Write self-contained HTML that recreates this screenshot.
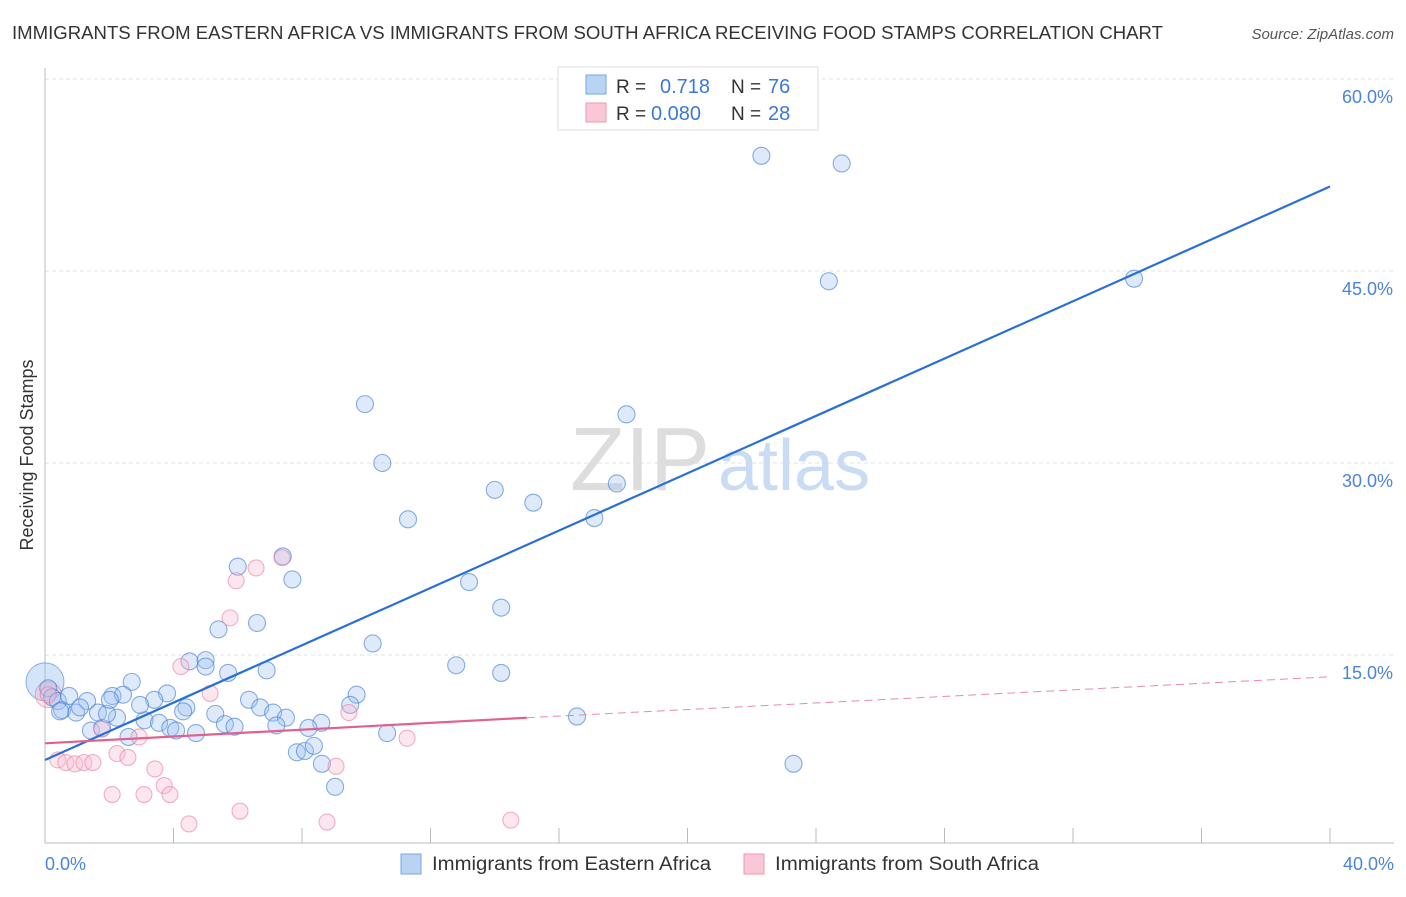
<!DOCTYPE html>
<html><head><meta charset="utf-8"><style>
body{margin:0;background:#fff;font-family:"Liberation Sans",sans-serif;}
svg text{font-family:"Liberation Sans",sans-serif;}
</style></head><body>
<svg id="chart" width="1406" height="892">
<text x="12" y="39" font-size="18" fill="#333" textLength="1151" lengthAdjust="spacingAndGlyphs">IMMIGRANTS FROM EASTERN AFRICA VS IMMIGRANTS FROM SOUTH AFRICA RECEIVING FOOD STAMPS CORRELATION CHART</text>
<text x="1394" y="39" font-size="15" fill="#555" font-style="italic" text-anchor="end">Source: ZipAtlas.com</text>
<g id="grid"></g>
<line x1="45" y1="68" x2="45" y2="843" stroke="#bbb"/>
<line x1="45" y1="843" x2="1394" y2="843" stroke="#bbb"/>
<text x="710" y="490" font-size="90" fill="#ddd" text-anchor="end" font-family="Liberation Serif">ZIP</text>
<text x="718" y="490" font-size="72" fill="#c9dcf3">atlas</text>
<text x="33" y="455" font-size="18" fill="#333" transform="rotate(-90 33 455)" text-anchor="middle">Receiving Food Stamps</text>
<text x="45" y="870" font-size="18" fill="#4a84da">0.0%</text>
<text x="1394" y="870" font-size="18" fill="#4a84da" text-anchor="end">40.0%</text>
<g id="marks"></g>
<g>
<rect x="558" y="67" width="260" height="63" fill="#fff" stroke="#ddd"/>
<rect x="586" y="75" width="20" height="19" fill="#b9d3f5" stroke="#7aa6e3"/>
<rect x="586" y="103" width="20" height="19" fill="#f9c7d5" stroke="#ec9ab2"/>
<text x="616" y="93" font-size="19" fill="#333">R = </text><text x="660" y="93" font-size="20" fill="#3b78d8">0.718</text>
<text x="731" y="93" font-size="19" fill="#333">N = </text><text x="768" y="93" font-size="20" fill="#3b78d8">76</text>
<text x="616" y="120" font-size="19" fill="#333">R = </text><text x="651" y="120" font-size="20" fill="#3b78d8">0.080</text>
<text x="731" y="120" font-size="19" fill="#333">N = </text><text x="768" y="120" font-size="20" fill="#3b78d8">28</text>
</g>
<g>
<rect x="401" y="854" width="20" height="20" fill="#b9d3f5" stroke="#7aa6e3"/>
<text x="432" y="870" font-size="19" fill="#333" textLength="279" lengthAdjust="spacingAndGlyphs">Immigrants from Eastern Africa</text>
<rect x="744" y="854" width="20" height="20" fill="#f9c7d5" stroke="#ec9ab2"/>
<text x="775" y="870" font-size="19" fill="#333" textLength="264" lengthAdjust="spacingAndGlyphs">Immigrants from South Africa</text>
</g>
</svg>
<script>
const yTicks=[15,30,45,60];
const xTicks=[0,4,8,12,16,20,24,28,32,36,40];
const blueX=[22.3,24.8,24.4,33.9,9.96,18.1,10.5,14.0,15.2,17.8,11.3,17.1,6.0,7.4,7.7,13.2,14.2,6.6,5.4,10.2,12.8,14.2,4.5,5.0,5.0,5.7,6.9,2.7,3.8,3.4,4.4,6.35,9.7,9.5,6.7,7.1,7.5,8.6,8.2,4.3,5.3,5.6,5.9,7.2,3.1,3.55,3.9,2.24,2.6,1.43,1.78,0.1,0.22,0.4,0.53,0.75,0.97,1.31,1.65,2.1,1.93,2.43,2.96,16.56,10.65,7.84,8.09,8.37,8.62,9.03,23.3,4.7,4.08,0.47,1.09,2.02];
const blueY=[54.0,53.4,44.2,44.4,34.6,33.8,30.0,27.9,26.9,28.4,25.6,25.7,21.9,22.7,20.9,20.7,18.7,17.5,17.0,15.9,14.2,13.6,14.5,14.6,14.1,13.6,13.8,12.9,12.0,11.5,10.9,11.5,11.9,11.1,10.9,10.5,10.1,9.7,9.3,10.6,10.4,9.6,9.4,9.5,9.9,9.7,9.3,10.1,8.6,9.1,9.3,12.4,11.7,11.4,10.7,11.8,10.5,11.4,10.5,11.8,10.4,11.9,11.1,10.2,8.9,7.4,7.5,7.9,6.5,4.7,6.5,8.9,9.1,10.6,10.9,11.5];
const pinkX=[7.38,5.95,6.57,5.76,4.23,5.14,9.46,2.93,0.1,0.4,0.65,0.93,1.21,1.49,2.24,2.58,3.42,3.71,3.89,2.09,3.08,4.48,6.07,8.78,14.5,11.27,9.06,1.77];
const pinkY=[22.6,20.8,21.8,17.9,14.1,12.0,10.5,8.6,11.9,6.8,6.6,6.5,6.6,6.6,7.3,7.0,6.1,4.8,4.1,4.1,4.1,1.8,2.8,1.95,2.1,8.5,6.3,9.2];
const blueTrend=[0.0,6.8,40.0,51.6];
const pinkTrend=[0.0,8.1,15.0,10.1,40.0,13.3];
const NS='http://www.w3.org/2000/svg';
const X=v=>45+v*32.125;
const Y=v=>847-v*12.8;
function mk(t,a,p){const e=document.createElementNS(NS,t);for(const k in a)e.setAttribute(k,a[k]);p.appendChild(e);return e;}
const grid=document.getElementById('grid'),marks=document.getElementById('marks'),svg=document.getElementById('chart');
yTicks.forEach(t=>{
 const l=mk('line',{x1:45,x2:1394,y1:Y(t),y2:Y(t),stroke:'#e2e2e2','stroke-dasharray':'4,3'},grid);
 
 
 const tx=mk('text',{x:1393,y:Y(t)+24,'font-size':18,fill:'#4a84da','text-anchor':'end'},svg);
 tx.textContent=t.toFixed(1)+'%';
 
 
});
xTicks.forEach((t,i)=>{if(i==0)return;
 const l=mk('line',{x1:X(t),x2:X(t),y1:828,y2:843,stroke:'#bbb'},grid);
 
 
});
const big=mk('circle',{cx:X(0),cy:Y(12.9),r:19,fill:'rgba(150,190,240,0.4)',stroke:'rgba(70,130,215,0.6)'},marks);


const bigp=mk('circle',{cx:X(0.1),cy:Y(11.9),r:13,fill:'rgba(245,170,195,0.35)',stroke:'rgba(230,120,155,0.55)'},marks);


blueX.forEach((v,i)=>{
 const c=mk('circle',{cx:X(v),cy:Y(blueY[i]),r:8.5,fill:'rgba(160,196,240,0.35)',stroke:'rgba(70,130,215,0.65)','stroke-width':1.1},marks);
 
 
});
pinkX.forEach((v,i)=>{
 const c=mk('circle',{cx:X(v),cy:Y(pinkY[i]),r:8,fill:'rgba(248,185,205,0.35)',stroke:'rgba(232,125,160,0.6)','stroke-width':1.1},marks);
 
 
});
const bl=mk('line',{x1:X(blueTrend[0]),y1:Y(blueTrend[1]),x2:X(blueTrend[2]),y2:Y(blueTrend[3]),stroke:'#2a6fd6','stroke-width':2.2},marks);


const pl=mk('line',{x1:X(pinkTrend[0]),y1:Y(pinkTrend[1]),x2:X(pinkTrend[2]),y2:Y(pinkTrend[3]),stroke:'#e0628c','stroke-width':2.2},marks);


const pd=mk('line',{x1:X(pinkTrend[2]),y1:Y(pinkTrend[3]),x2:X(pinkTrend[4]),y2:Y(pinkTrend[5]),stroke:'#e88aa8','stroke-width':1,'stroke-dasharray':'8,5'},marks);


</script>
</body></html>
